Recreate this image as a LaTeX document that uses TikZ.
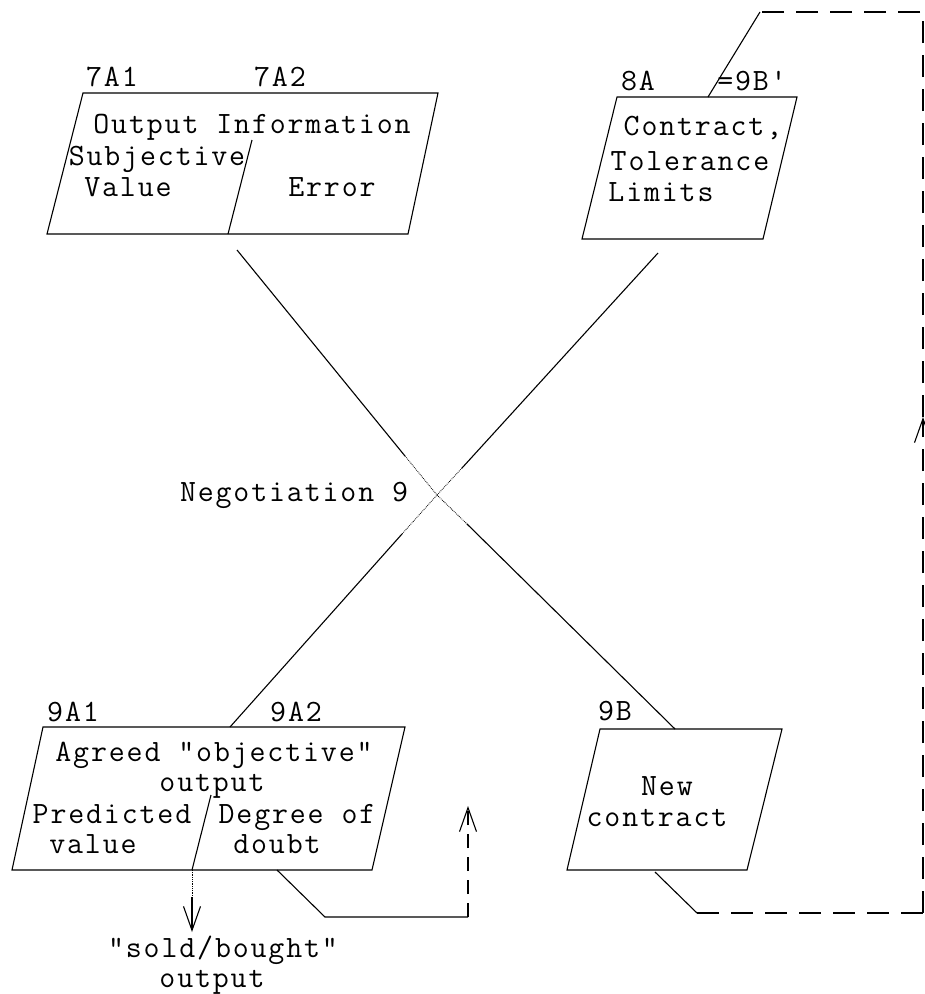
\documentclass[tikz,border=0pt]{standalone}
\usepackage{fontspec}
\setmonofont{Latin Modern Mono}[LetterSpace=6]
\usetikzlibrary{arrows.meta}
\begin{document}
\begin{tikzpicture}[x=1pt,y=-1pt,line width=1.1pt,
  tw/.style={font=\ttfamily\fontsize{31}{31}\selectfont,anchor=base,inner sep=0pt},
  faint/.style={line width=0.8pt,densely dotted},
  barb/.style={-{Straight Barb[length=24pt,width=17pt,line width=1.1pt]}},
  shortdash/.style={dash pattern=on 14pt off 9pt},
  longdash/.style={dash pattern=on 22pt off 12pt}]
\useasboundingbox (0,0) rectangle (925,994);

% ---- box 7A: output information ----
\coordinate (a1) at (83,93);  \coordinate (a2) at (438,93);
\coordinate (a3) at (408,234); \coordinate (a4) at (47,234);
\coordinate (ad1) at (252,140); \coordinate (ad2) at (228,234);
\draw (a1) -- (a2) -- (a3) -- (a4) -- cycle;
\draw (ad1) -- (ad2);
\node[tw] (l7a1) at (112,86) {7A1};
\node[tw] (l7a2) at (280,86) {7A2};
\node[tw] (t7a)  at (252,133) {Output Information};
\node[tw] (t7b)  at (157,165) {Subjective};
\node[tw] (t7c)  at (128,196) {Value};
\node[tw] (t7d)  at (332,196) {Error};

% ---- box 8A: contract ----
\coordinate (b1) at (617,97);  \coordinate (b2) at (797,97);
\coordinate (b3) at (763,239); \coordinate (b4) at (582,239);
\draw (b1) -- (b2) -- (b3) -- (b4) -- cycle;
\node[tw] (l8a)  at (638,90) {8A};
\node[tw] (l9bp) at (752,90) {=9B'};
\node[tw] (t8a)  at (703,135) {Contract,};
\node[tw] (t8b)  at (690,170) {Tolerance};
\node[tw] (t8c)  at (661,201) {Limits};

% ---- box 9A: agreed output ----
\coordinate (c1) at (43,727);  \coordinate (c2) at (405,727);
\coordinate (c3) at (372,870); \coordinate (c4) at (12,870);
\coordinate (cd1) at (211,795); \coordinate (cd2) at (192,870);
\draw (c1) -- (c2) -- (c3) -- (c4) -- cycle;
\draw (cd1) -- (cd2);
\node[tw] (l9a1) at (73,721) {9A1};
\node[tw] (l9a2) at (296,721) {9A2};
\node[tw] (t9a)  at (214,761) {Agreed "objective"};
\node[tw] (t9b)  at (212,791) {output};
\node[tw] (t9c)  at (112,823) {Predicted};
\node[tw] (t9d)  at (93,853) {value};
\node[tw] (t9e)  at (297,823) {Degree of};
\node[tw] (t9f)  at (277,853) {doubt};

% ---- box 9B: new contract ----
\coordinate (d1) at (600,729); \coordinate (d2) at (782,729);
\coordinate (d3) at (747,870); \coordinate (d4) at (567,870);
\draw (d1) -- (d2) -- (d3) -- (d4) -- cycle;
\node[tw] (l9b) at (615,720) {9B};
\node[tw] (t9g) at (667,795) {New};
\node[tw] (t9h) at (657,826) {contract};

% ---- negotiation crossing ----
\coordinate (X) at (437,495);
\coordinate (out7A) at (237,250); \coordinate (x7a) at (405,456);
\coordinate (in9B)  at (675,729); \coordinate (x9b) at (467,524);
\coordinate (out8A) at (658,253); \coordinate (x8a) at (462,468);
\coordinate (in9A)  at (230,727); \coordinate (x9a) at (402,534);
\draw (out7A) -- (x7a);
\draw[faint] (x7a) -- (X) -- (x9b);
\draw (x9b) -- (in9B);
\draw (out8A) -- (x8a);
\draw[faint] (x8a) -- (X) -- (x9a);
\draw (x9a) -- (in9A);
\node[tw] (neg) at (294,501) {Negotiation 9};

% ---- sold/bought output ----
\coordinate (sd1) at (192,897); \coordinate (sd2) at (192,932);
\draw[faint] (cd2) -- (sd1);
\draw[barb] (sd1) -- (sd2);
\node[tw] (t9i) at (223,957) {"sold/bought"};
\node[tw] (t9j) at (212,987) {output};

% ---- feedback from degree of doubt ----
\coordinate (fb0) at (277,870); \coordinate (fb1) at (325,917);
\coordinate (fb2) at (468,917); \coordinate (fb3) at (468,806);
\draw (fb0) -- (fb1) -- (fb2);
\draw[shortdash,barb] (fb2) -- (fb3);

% ---- new contract loops back to 8A ----
\coordinate (lp0) at (655,872); \coordinate (lp1) at (697,913);
\coordinate (lp2) at (923,913); \coordinate (lpA) at (923,417);
\coordinate (lp3) at (923,12);  \coordinate (lp4) at (760,12);
\coordinate (lp5) at (708,97);
\draw (lp0) -- (lp1);
\draw[longdash] (lp1) -- (lp2);
\draw[longdash,barb] (lp2) -- (lpA);
\draw[longdash] (lpA) -- (lp3) -- (lp4);
\draw (lp4) -- (lp5);
\end{tikzpicture}
\end{document}
